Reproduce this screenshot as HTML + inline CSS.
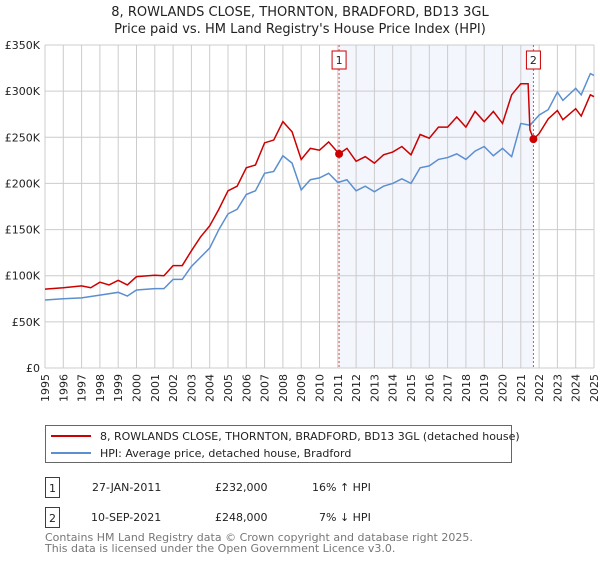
<!DOCTYPE html>
<html><head><meta charset="utf-8"><style>
body{margin:0;background:#fff;font-family:"Liberation Sans","DejaVu Sans",sans-serif;}
svg text{font-family:"DejaVu Sans","Liberation Sans",sans-serif;}
</style></head><body>
<svg id="c" width="600" height="560" viewBox="0 0 600 560" xmlns="http://www.w3.org/2000/svg">
<text x="300" y="16" text-anchor="middle" font-size="13" fill="#222">8, ROWLANDS CLOSE, THORNTON, BRADFORD, BD13 3GL</text>
<text x="300" y="33" text-anchor="middle" font-size="13" fill="#222">Price paid vs. HM Land Registry's House Price Index (HPI)</text>
<g id="grid"></g><g id="marks"></g>
<g>
<rect x="45.5" y="425.5" width="466" height="37" fill="#fff" stroke="#666"/>
<line x1="51" y1="436" x2="91" y2="436" stroke="#cc0000" stroke-width="2"/>
<text x="100" y="440" font-size="11" fill="#222">8, ROWLANDS CLOSE, THORNTON, BRADFORD, BD13 3GL (detached house)</text>
<line x1="51" y1="453" x2="91" y2="453" stroke="#5b8fd0" stroke-width="2"/>
<text x="100" y="457" font-size="11" fill="#222">HPI: Average price, detached house, Bradford</text>
</g>
<g font-size="11" fill="#222">
<rect x="45.5" y="477.5" width="14" height="20" fill="#fff" stroke="#cc0000"/><text x="52.5" y="492" text-anchor="middle">1</text>
<text x="92" y="491">27-JAN-2011</text><text x="215" y="491">£232,000</text><text x="312" y="491">16% ↑ HPI</text>
<rect x="45.5" y="507.5" width="14" height="20" fill="#fff" stroke="#cc0000"/><text x="52.5" y="522" text-anchor="middle">2</text>
<text x="91" y="521">10-SEP-2021</text><text x="215" y="521">£248,000</text><text x="319" y="521">7% ↓ HPI</text>
</g>
<text x="45" y="541" font-size="11" fill="#777">Contains HM Land Registry data © Crown copyright and database right 2025.</text>
<text x="45" y="552" font-size="11" fill="#777">This data is licensed under the Open Government Licence v3.0.</text>
</svg>
<script>
const yTicks=[0,50,100,150,200,250,300,350];
const yLabels=["£0","£50K","£100K","£150K","£200K","£250K","£300K","£350K"];
const years=[1995,1996,1997,1998,1999,2000,2001,2002,2003,2004,2005,2006,2007,2008,2009,2010,2011,2012,2013,2014,2015,2016,2017,2018,2019,2020,2021,2022,2023,2024,2025];
const redT=[1995,1996,1997,1997.5,1998,1998.5,1999,1999.5,2000,2001,2001.5,2002,2002.5,2003,2003.5,2004,2004.5,2005,2005.5,2006,2006.5,2007,2007.5,2008,2008.5,2009,2009.5,2010,2010.5,2011.07,2011.5,2012,2012.5,2013,2013.5,2014,2014.5,2015,2015.5,2016,2016.5,2017,2017.5,2018,2018.5,2019,2019.5,2020,2020.5,2021,2021.4,2021.5,2021.7,2022,2022.5,2023,2023.3,2024,2024.3,2024.8,2025];
const redV=[85.5,87,89,87,93,90,95,90,99,100.5,100,111,111,127,142,154,172,192,197,217,220,244,247,267,256,226,238,236,245,232,238,224,229,222,231,234,240,231,253,249,261,261,272,261,278,267,278,265,296,308,308,258,248,254,270,279,269,281,273,296,294];
const blueT=[1995,1996,1997,1998,1999,1999.5,2000,2001,2001.5,2002,2002.5,2003,2004,2004.5,2005,2005.5,2006,2006.5,2007,2007.5,2008,2008.5,2009,2009.5,2010,2010.5,2011,2011.5,2012,2012.5,2013,2013.5,2014,2014.5,2015,2015.5,2016,2016.5,2017,2017.5,2018,2018.5,2019,2019.5,2020,2020.5,2021,2021.5,2022,2022.5,2023,2023.3,2024,2024.3,2024.8,2025];
const blueV=[73.7,75,76,79,82,78,84.5,86,86,96,96,110,130,150,167,172,188,192,211,213,230,222,193,204,206,211,201,204,192,197,191,197,200,205,200,217,219,226,228,232,226,235,240,230,238,229,265,263,274,280,299,290,303,296,319,317];
const sales=[[2011.07,232],[2021.69,248]];
const X0=45,X1=594,Y0=368,Y1=45;
const xs=t=>X0+(t-1995)/30*(X1-X0);
const ys=v=>Y0-v/350*(Y0-Y1);
const NS="http://www.w3.org/2000/svg";
function mk(p,tag,a){const e=document.createElementNS(NS,tag);for(const k in a)e.setAttribute(k,a[k]);p.appendChild(e);return e;}
const g=document.getElementById('grid'),m=document.getElementById('marks');
const band=mk(g,'rect',{x:xs(sales[0][0]),y:Y1,width:xs(sales[1][0])-xs(sales[0][0]),height:Y0-Y1,fill:'#f3f6fd'});


years.forEach(y=>{const l=mk(g,'line',{x1:xs(y),x2:xs(y),y1:Y1,y2:Y0,stroke:'#ccc'});


const t=mk(g,'text',{x:0,y:0,'font-size':11,fill:'#222','text-anchor':'end',transform:`translate(${xs(y)+4},374) rotate(-90)`});t.textContent=y;

});
yTicks.forEach((v,i)=>{const l=mk(g,'line',{x1:X0,x2:X1,y1:ys(v),y2:ys(v),stroke:'#ccc'});


const t=mk(g,'text',{x:X0-5,y:ys(v)+4,'font-size':11,fill:'#222','text-anchor':'end'});t.textContent=yLabels[i];

});
sales.forEach((s,i)=>{const l=mk(m,'line',{x1:xs(s[0]),x2:xs(s[0]),y1:Y1,y2:Y0,stroke:'#e05050','stroke-dasharray':'2,2'});


const r=mk(m,'rect',{x:xs(s[0])-7,y:51,width:14,height:18,fill:'#fff',stroke:'#cc0000'});


const t=mk(m,'text',{x:xs(s[0]),y:64,'font-size':11,'text-anchor':'middle',fill:'#222'});t.textContent=i+1;

});
const pb=mk(m,'polyline',{points:blueT.map((t,i)=>xs(t)+','+ys(blueV[i])).join(' '),fill:'none',stroke:'#5b8fd0','stroke-width':1.5});


const pr=mk(m,'polyline',{points:redT.map((t,i)=>xs(t)+','+ys(redV[i])).join(' '),fill:'none',stroke:'#cc0000','stroke-width':1.5});


sales.forEach(s=>{const c=mk(m,'circle',{cx:xs(s[0]),cy:ys(s[1]),r:4,fill:'#cc0000'});

});
</script>
</body></html>
